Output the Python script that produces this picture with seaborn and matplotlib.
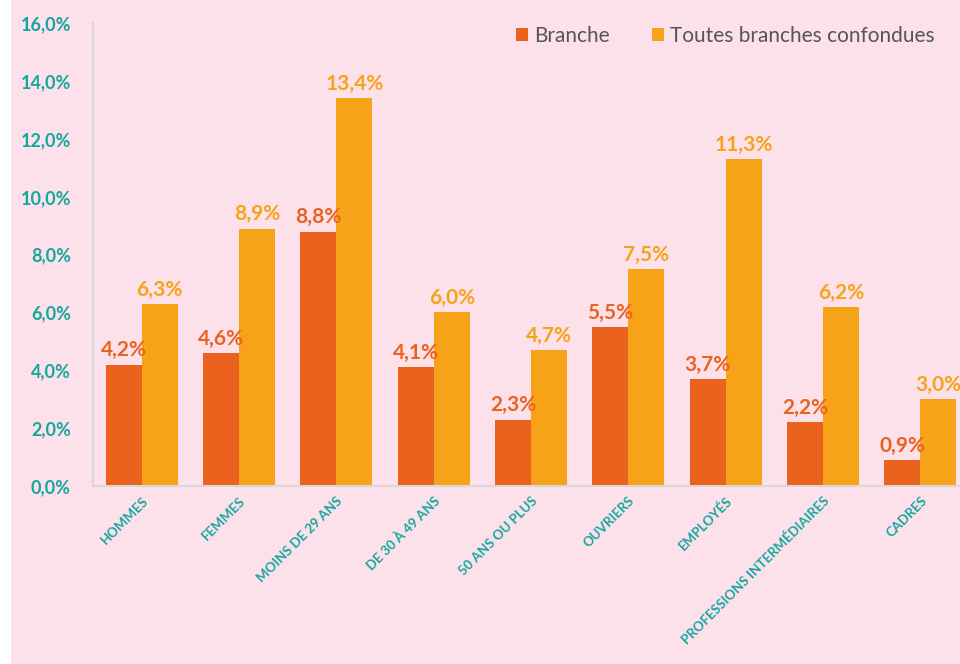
import pandas as pd
import matplotlib.pyplot as plt
import matplotlib.patches as mpatches
import seaborn as sns

# Data
categories = ['HOMMES', 'FEMMES', 'MOINS DE 29 ANS', 'DE 30 À 49 ANS', '50 ANS OU PLUS',
              'OUVRIERS', 'EMPLOYÉS', 'PROFESSIONS INTERMÉDIAIRES', 'CADRES']
branche = [4.2, 4.6, 8.8, 4.1, 2.3, 5.5, 3.7, 2.2, 0.9]
toutes = [6.3, 8.9, 13.4, 6.0, 4.7, 7.5, 11.3, 6.2, 3.0]
series_names = ['Branche', 'Toutes branches confondues']
yticks = [0, 2, 4, 6, 8, 10, 12, 14, 16]

df = pd.DataFrame({
    'categorie': categories * 2,
    'valeur': branche + toutes,
    'serie': [series_names[0]] * len(categories) + [series_names[1]] * len(categories),
})

bg = '#FCE0EA'
teal = '#13A89E'
colors = ['#EA621D', '#F6A31A']

sns.set_style('white')
plt.rcParams['font.family'] = ['Lato', 'DejaVu Sans']

fig = plt.figure(figsize=(9.6, 6.64), dpi=100, facecolor=bg)
fig.patches.append(mpatches.Rectangle((0, 0), 10 / 960, 1, transform=fig.transFigure,
                                      facecolor='white', zorder=-1))
# plot area runs slightly past the right edge, as in the original crop
ax = fig.add_axes([0.097, 0.268, 0.9125, 0.697])
ax.set_facecolor(bg)

sns.barplot(data=df, x='categorie', y='valeur', hue='serie', palette=colors,
            width=0.74, saturation=1, linewidth=0, ax=ax, legend=True)

ax.set_ylim(0, 16)
ax.set_yticks(yticks)
ax.set_yticklabels([f"{v:.1f}%".replace('.', ',') for v in yticks],
                   color=teal, fontsize=13, fontweight='bold')
ax.set_xticks(range(len(categories)))
ax.set_xticklabels(categories, rotation=45, ha='right', rotation_mode='anchor',
                   color=teal, fontsize=9.5, fontweight='bold')
ax.tick_params(axis='y', length=0, pad=16)
ax.tick_params(axis='x', length=0, pad=6)
ax.set_xlabel('')
ax.set_ylabel('')
ax.set_xlim(-0.5, len(categories) - 0.5)

for s in ['top', 'right']:
    ax.spines[s].set_visible(False)
ax.spines['left'].set_color('#D8D8D8')
ax.spines['bottom'].set_color('#D8D8D8')
ax.spines['left'].set_linewidth(1.5)
ax.spines['bottom'].set_linewidth(1.5)

for cont, col in zip(ax.containers, colors):
    ax.bar_label(cont, labels=[f"{b.get_height():.1f}%".replace('.', ',') for b in cont],
                 color=col, fontsize=15, fontweight='bold', padding=3)

leg = ax.legend(loc='upper right', bbox_to_anchor=(935 / 960, 1 - 26 / 664),
                bbox_transform=fig.transFigure, borderaxespad=0, borderpad=0,
                ncol=2, frameon=False,
                fontsize=15, handlelength=0.6, handleheight=0.6, handletextpad=0.3,
                columnspacing=2.0)
for t in leg.get_texts():
    t.set_color('#555555')

fig.savefig('out.png', dpi=100, facecolor=bg)
